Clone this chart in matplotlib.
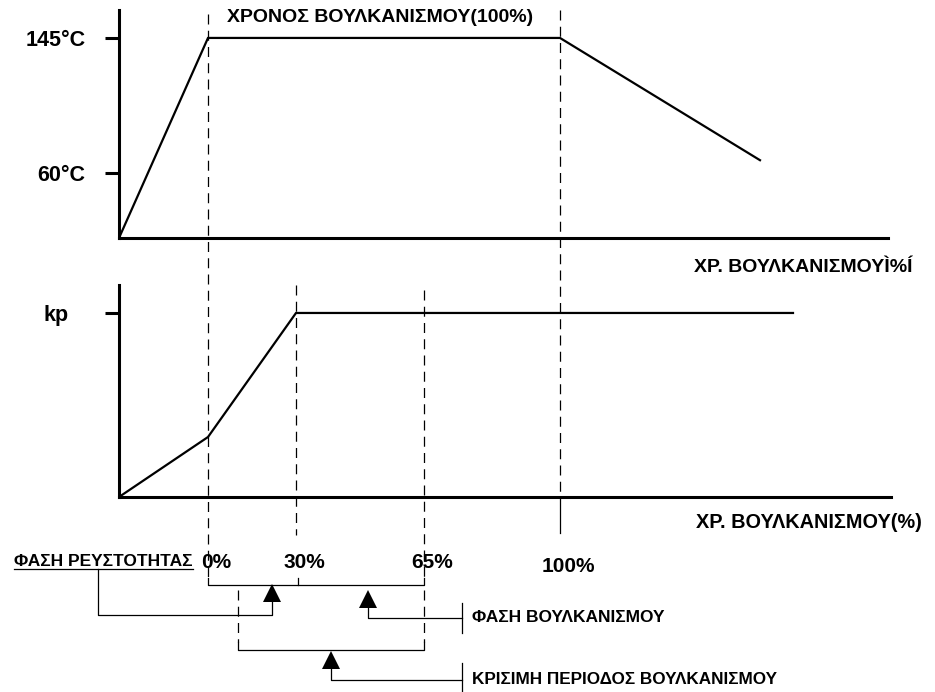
import matplotlib
matplotlib.use('Agg')
import matplotlib.pyplot as plt

plt.rcParams['font.family'] = ['Liberation Sans', 'DejaVu Sans']
plt.rcParams['font.weight'] = 'bold'

# time axis in arbitrary units (origin = start of heating)
t_temp = [0, 8.9, 44.1, 64.1]
temp = [19, 145, 145, 68]
temp_ticks = [60, 145]
temp_labels = ['60°C', '145°C']

t_kp = [0, 8.9, 17.7, 67.4]
kp = [0, 0.326, 1, 1]

cure_labels = ['0%', '30%', '65%', '100%']
t_cure = [8.9, 17.7, 30.5, 44.1]

title_txt = 'ΧΡΟΝΟΣ ΒΟΥΛΚΑΝΙΣΜΟΥ(100%)'
xlab_top = 'ΧΡ. ΒΟΥΛΚΑΝΙΣΜΟΥÌ%Í'
xlab_bot = 'ΧΡ. ΒΟΥΛΚΑΝΙΣΜΟΥ(%)'
phase_flow = 'ΦΑΣΗ ΡΕΥΣΤΟΤΗΤΑΣ'
phase_cure = 'ΦΑΣΗ ΒΟΥΛΚΑΝΙΣΜΟΥ'
critical = 'ΚΡΙΣΙΜΗ ΠΕΡΙΟΔΟΣ ΒΟΥΛΚΑΝΙΣΜΟΥ'

W, H = 935, 692
fig = plt.figure(figsize=(W / 100, H / 100), dpi=100)

XMAX = (W - 119) / 10.0
AXW = 2.2
CW = 1.6

# temperature panel
ax1 = fig.add_axes([119 / W, 1 - 238 / H, (W - 119) / W, 228 / H])
ax1.plot(t_temp, temp, color='k', lw=CW, solid_joinstyle='miter')
ax1.set_xlim(0, XMAX)
ax1.set_ylim(19, 162.6)
ax1.spines['top'].set_visible(False)
ax1.spines['right'].set_visible(False)
ax1.spines['bottom'].set_bounds(0, 76.9)
for s in ['left', 'bottom']:
    ax1.spines[s].set_linewidth(AXW)
ax1.set_xticks([])
ax1.set_yticks(temp_ticks)
ax1.set_yticklabels(temp_labels, fontsize=15.5, fontweight='bold')
ax1.tick_params(axis='y', length=10, width=AXW, pad=14)
ax1.patch.set_visible(False)

# kp panel
ax2 = fig.add_axes([119 / W, 1 - 497 / H, (W - 119) / W, 212 / H])
ax2.plot(t_kp, kp, color='k', lw=CW, solid_joinstyle='miter')
ax2.set_xlim(0, XMAX)
ax2.set_ylim(0, 1.152)
ax2.spines['top'].set_visible(False)
ax2.spines['right'].set_visible(False)
ax2.spines['bottom'].set_bounds(0, 77.2)
for s in ['left', 'bottom']:
    ax2.spines[s].set_linewidth(AXW)
ax2.set_xticks([])
ax2.set_yticks([1])
ax2.set_yticklabels(['kp'], fontsize=15.5, fontweight='bold')
ax2.tick_params(axis='y', length=10, width=AXW, pad=26)
ax2.patch.set_visible(False)

# overlay for guides, brackets and notes (y in pixel rows)
ax = fig.add_axes([0, 0, 1, 1])
ax.set_xlim(-11.9, XMAX)
ax.set_ylim(H, 0)
ax.axis('off')

dash = dict(color='k', lw=0.9, ls=(0, (8, 5)))
thin = dict(color='k', lw=0.9)

t0, t30, t65, t100 = t_cure
ax.plot([t0, t0], [14, 578], **dash)
ax.plot([t30, t30], [285, 535], **dash)
ax.plot([t65, t65], [290, 578], **dash)
ax.plot([t100, t100], [10, 497], **dash)
ax.plot([t100, t100], [497, 533], **thin)

# bracket 0% - 65%
ax.plot([t0, t0, t65, t65], [578, 585, 585, 578], **thin)
ax.plot([t30 + 0.2, t30 + 0.2], [578, 585], **thin)

# bracket critical period
tc = 11.9
ax.plot([tc, tc], [590, 642], **dash)
ax.plot([t65, t65], [590, 642], **dash)
ax.plot([tc, tc, t65, t65], [642, 650, 650, 642], **thin)

for i, lab in enumerate(cure_labels):
    yy = 567 if lab == '100%' else 563
    ax.text(t_cure[i] + 0.8, yy, lab, ha='center', va='center',
            fontsize=15, fontweight='bold')

ax.text(10.8, 18, title_txt, ha='left', va='center', fontsize=14, fontweight='bold')
ax.text(79.3, 268, xlab_top, ha='right', va='center', fontsize=14, fontweight='bold')
ax.text(80.3, 522, xlab_bot, ha='right', va='center', fontsize=14.3, fontweight='bold')

# flow phase note
ax.text(7.4, 561, phase_flow, ha='right', va='center', fontsize=12.5, fontweight='bold')
ax.plot([-10.5, 7.4], [569, 569], **thin)
ax.plot([-2.1, -2.1, 15.3, 15.3], [569, 615, 615, 600], **thin)
ax.plot([15.3], [593], marker='^', ms=13, color='k', mew=0)

# cure phase note
ax.plot([24.9, 24.9, 34.3], [606, 618, 618], **thin)
ax.plot([34.3, 34.3], [603, 633], **thin)
ax.plot([24.9], [599], marker='^', ms=13, color='k', mew=0)
ax.text(35.3, 618, phase_cure, ha='left', va='center', fontsize=12.5, fontweight='bold')

# critical period note
ax.plot([21.2, 21.2, 34.3], [667, 680, 680], **thin)
ax.plot([34.3, 34.3], [663, 692], **thin)
ax.plot([21.2], [660], marker='^', ms=13, color='k', mew=0)
ax.text(35.3, 680, critical, ha='left', va='center', fontsize=12.3, fontweight='bold')

fig.savefig('out.png', dpi=100)
